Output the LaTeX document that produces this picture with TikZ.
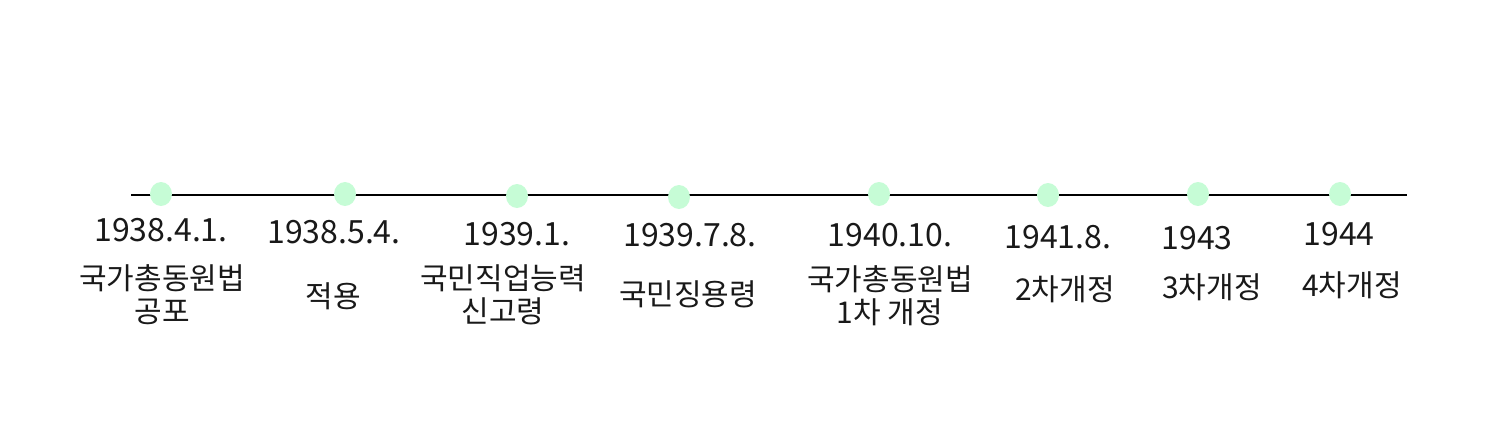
\documentclass[tikz,border=0pt]{standalone}
\usepackage{fontspec}
\newfontfamily\kr{Noto Sans CJK KR}
\definecolor{dotgreen}{RGB}{198,252,214}
\begin{document}
\begin{tikzpicture}[x=1pt,y=-1pt,
  datelbl/.style={font=\kr\fontsize{32}{33}\selectfont,inner sep=0pt,text=black!90},
  desclbl/.style={font=\kr\fontsize{30}{33}\selectfont,inner sep=0pt,align=center,text=black!90}]
\useasboundingbox (0,0) rectangle (1512,424);
\coordinate (L) at (131,195);
\coordinate (R) at (1407,195);
\draw[line width=1.8pt] (L) -- (R);
\foreach \n/\x/\y in {a/161/194,b/345/194,c/517/196,d/679/197,e/879/194,f/1048/195,g/1198/194,h/1340/194}{
  \fill[dotgreen] (\x,\y) ellipse (11 and 12);
}
\node[datelbl] (da) at (161,230) {1938.4.1.};
\node[datelbl] (db) at (334,232) {1938.5.4.};
\node[datelbl] (dc) at (517,234) {1939.1.};
\node[datelbl] (dd) at (690,235) {1939.7.8.};
\node[datelbl] (de) at (890,235) {1940.10.};
\node[datelbl] (df) at (1058,237) {1941.8.};
\node[datelbl] (dg) at (1197,238) {1943};
\node[datelbl] (dh) at (1339,234) {1944};
\node[desclbl] (ta) at (162,295) {국가총동원법\\공포};
\node[desclbl] (tb) at (333,296) {적용};
\node[desclbl] (tc) at (503,295) {국민직업능력\\신고령};
\node[desclbl] (td) at (688,294) {국민징용령};
\node[desclbl] (te) at (890,296) {국가총동원법\\1차 개정};
\node[desclbl] (tf) at (1065,289) {2차개정};
\node[desclbl] (tg) at (1212,287) {3차개정};
\node[desclbl] (th) at (1352,285) {4차개정};
\end{tikzpicture}
\end{document}
